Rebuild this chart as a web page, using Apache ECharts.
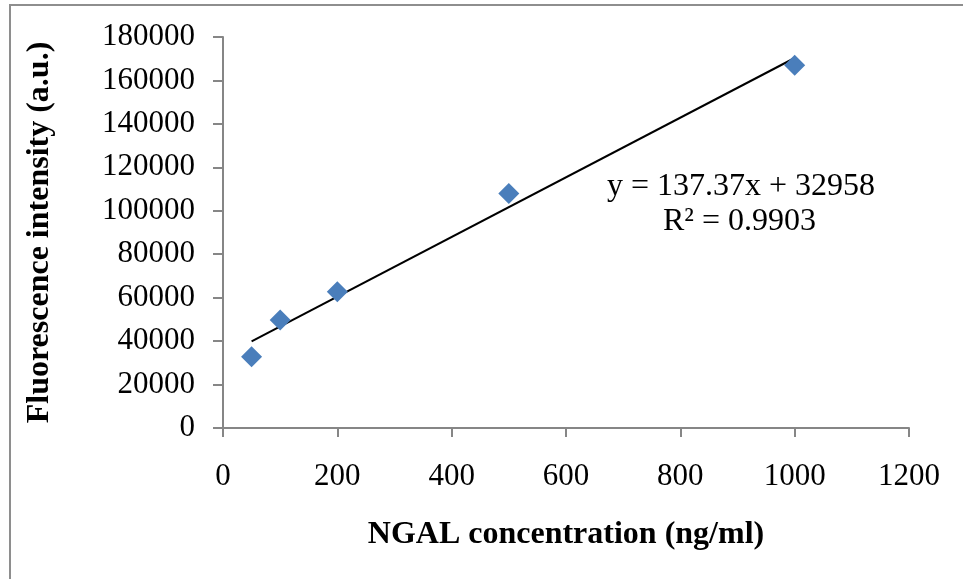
<!DOCTYPE html>
<html>
<head>
<meta charset="utf-8">
<script src="https://cdn.jsdelivr.net/npm/echarts@6/dist/echarts.min.js"></script>
<style>
  html, body { margin: 0; padding: 0; background: #ffffff; }
  #chart { width: 963px; height: 579px; }
</style>
</head>
<body>
<div id="chart"></div>
<script>
// NGAL calibration: concentration (ng/ml) vs fluorescence intensity (a.u.)
const concentrations = [50, 100, 200, 500, 1000];
const intensities = [32800, 49700, 62700, 108000, 167000];

// Linear fit reported on the chart
const fitSlope = 137.37;
const fitIntercept = 32958;
const fitRange = [50, 1000];
const fitLabel = ['y = 137.37x + 32958', 'R\u00B2 = 0.9903'];

const xTicks = { min: 0, max: 1200, interval: 200 };
const yTicks = { min: 0, max: 180000, interval: 20000 };

const points = concentrations.map((c, i) => [c, intensities[i]]);
const fitLine = fitRange.map(x => [x, fitSlope * x + fitIntercept]);

const serif = '"Liberation Serif", "Times New Roman", serif';
const axisGray = '#868686';
const plainNumber = v => String(v);

const chart = echarts.init(document.getElementById('chart'), null, { renderer: 'canvas' });

chart.setOption({
  animation: false,
  backgroundColor: '#ffffff',
  grid: { left: 223, top: 37, right: 54, bottom: 151, containLabel: false },
  graphic: [
    {
      type: 'rect',
      shape: { x: 10, y: 5, width: 1200, height: 1200 },
      style: { fill: 'none', stroke: '#8e8e8e', lineWidth: 2 },
      silent: true,
      z: 0
    },
    {
      type: 'text',
      left: 607,
      top: 171,
      style: {
        text: fitLabel[0],
        font: '32px ' + serif,
        fill: '#000000'
      },
      z: 10
    },
    {
      type: 'text',
      left: 663,
      top: 206,
      style: {
        text: fitLabel[1],
        font: '32px ' + serif,
        fill: '#000000'
      },
      z: 10
    }
  ],
  xAxis: {
    type: 'value',
    min: xTicks.min,
    max: xTicks.max,
    interval: xTicks.interval,
    name: 'NGAL concentration (ng/ml)',
    nameLocation: 'middle',
    nameGap: 91,
    nameTextStyle: { fontFamily: serif, fontSize: 32, fontWeight: 'bold', color: '#000000' },
    axisLine: { show: true, lineStyle: { color: axisGray, width: 2 } },
    axisTick: { show: true, length: 9, inside: false, lineStyle: { color: axisGray, width: 2 } },
    axisLabel: { margin: 33, fontFamily: serif, fontSize: 31, color: '#000000', formatter: plainNumber },
    splitLine: { show: false }
  },
  yAxis: {
    type: 'value',
    min: yTicks.min,
    max: yTicks.max,
    interval: yTicks.interval,
    name: 'Fluorescence intensity (a.u.)',
    nameLocation: 'middle',
    nameGap: 167,
    nameTextStyle: { fontFamily: serif, fontSize: 32, fontWeight: 'bold', color: '#000000' },
    axisLine: { show: true, lineStyle: { color: axisGray, width: 2 } },
    axisTick: { show: true, length: 10, inside: false, lineStyle: { color: axisGray, width: 2 } },
    axisLabel: { margin: 28, fontFamily: serif, fontSize: 31, color: '#000000', formatter: plainNumber },
    splitLine: { show: false }
  },
  series: [
    {
      name: 'Linear fit',
      type: 'line',
      data: fitLine,
      symbol: 'none',
      lineStyle: { color: '#000000', width: 2 },
      z: 2
    },
    {
      name: 'Intensity',
      type: 'scatter',
      data: points,
      symbol: 'diamond',
      symbolSize: [21, 21],
      itemStyle: { color: '#4a7ebb', opacity: 1 },
      z: 3
    }
  ]
});
</script>
</body>
</html>
